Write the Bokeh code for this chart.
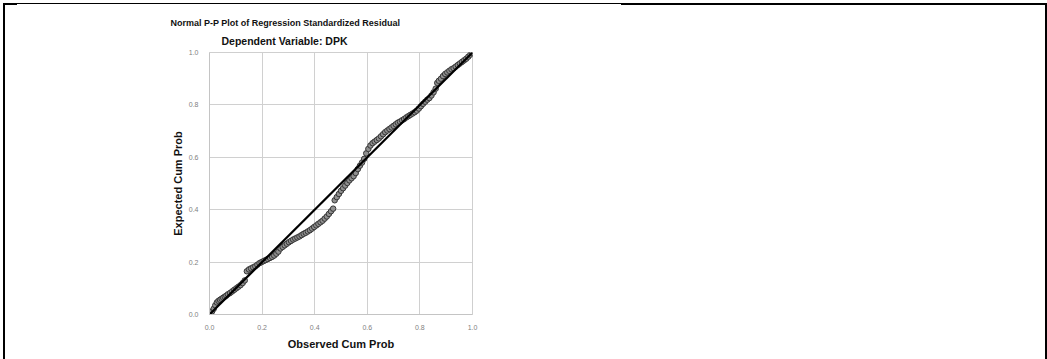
from bokeh.plotting import figure
from bokeh.models import Title, FixedTicker, NumeralTickFormatter, ColumnDataSource
from bokeh.embed import file_html
from bokeh.resources import INLINE

# ---------------- data ----------------
observed = [
    0.004, 0.010, 0.016, 0.022, 0.028, 0.034, 0.040, 0.046, 0.052, 0.058,
    0.064, 0.070, 0.078, 0.086, 0.094, 0.102, 0.110, 0.118, 0.126,
    0.134, 0.142, 0.150, 0.158, 0.166, 0.174, 0.182, 0.190, 0.198,
    0.206, 0.214, 0.222, 0.230, 0.238, 0.246, 0.254, 0.262, 0.270, 0.278,
    0.286, 0.294, 0.302, 0.310, 0.318, 0.326, 0.334, 0.342, 0.350, 0.358,
    0.366, 0.374, 0.382, 0.390, 0.398, 0.406, 0.414, 0.422, 0.430, 0.438,
    0.446, 0.454, 0.462, 0.470,
    0.476, 0.484, 0.492, 0.500, 0.508, 0.516, 0.524, 0.532, 0.540, 0.548, 0.556,
    0.564, 0.572, 0.580, 0.588,
    0.596, 0.604, 0.612, 0.620, 0.628, 0.636, 0.644, 0.652, 0.660, 0.668,
    0.676, 0.684, 0.692, 0.700, 0.708, 0.716, 0.724, 0.732, 0.740, 0.748,
    0.756, 0.764, 0.772, 0.780, 0.788, 0.796, 0.804, 0.812, 0.820, 0.828,
    0.836, 0.844, 0.852, 0.860,
    0.866, 0.872, 0.880, 0.888, 0.896, 0.904, 0.912, 0.920, 0.928, 0.936,
    0.944, 0.952, 0.960, 0.968, 0.976, 0.984, 0.992, 0.998,
]
expected = [
    0.004, 0.012, 0.022, 0.035, 0.046, 0.052, 0.056, 0.060, 0.064, 0.068,
    0.072, 0.077, 0.082, 0.088, 0.094, 0.100, 0.106, 0.112, 0.120,
    0.130, 0.165, 0.172, 0.176, 0.180, 0.184, 0.190, 0.196, 0.200,
    0.204, 0.208, 0.212, 0.216, 0.220, 0.225, 0.232, 0.240, 0.252, 0.258,
    0.264, 0.270, 0.276, 0.281, 0.286, 0.290, 0.294, 0.298, 0.303, 0.308,
    0.312, 0.317, 0.322, 0.328, 0.334, 0.340, 0.346, 0.352, 0.358, 0.366,
    0.374, 0.384, 0.394, 0.404,
    0.436, 0.448, 0.460, 0.472, 0.482, 0.492, 0.502, 0.512, 0.520, 0.528, 0.540,
    0.555, 0.568, 0.580, 0.594,
    0.615, 0.632, 0.645, 0.654, 0.660, 0.666, 0.672, 0.680, 0.688, 0.696,
    0.702, 0.708, 0.714, 0.720, 0.726, 0.732, 0.736, 0.741, 0.746, 0.752,
    0.757, 0.762, 0.767, 0.772, 0.778, 0.786, 0.795, 0.804, 0.812, 0.820,
    0.826, 0.836, 0.848, 0.862,
    0.884, 0.892, 0.900, 0.910, 0.918, 0.924, 0.930, 0.936, 0.940, 0.946,
    0.952, 0.958, 0.964, 0.970, 0.976, 0.984, 0.992, 0.998,
]
diag_x = [0.0, 1.0]
diag_y = [0.0, 1.0]
tick_vals = [0.0, 0.2, 0.4, 0.6, 0.8, 1.0]
tick_labels = ["0.0", "0.2", "0.4", "0.6", "0.8", "1.0"]
title_text = "Normal P-P Plot of Regression Standardized Residual"
subtitle_text = "Dependent Variable: DPK"
x_label = "Observed Cum Prob"
y_label = "Expected Cum Prob"

# ---------------- figure ----------------
FONT = "Liberation Sans"
p = figure(width=1047, height=359, x_range=(0, 1), y_range=(0, 1),
           output_backend="svg", toolbar_location=None,
           min_border_left=209, min_border_right=575,
           min_border_top=52, min_border_bottom=45)
p.border_fill_color = None
p.background_fill_color = "white"
p.outline_line_color = "#cfcfcf"
p.outline_line_width = 1

# table frame lines around the chart cell (decoration, CSS)
p.styles = {
    "background-image": ", ".join(["linear-gradient(#000,#000)"] * 5),
    "background-size": "2px 356px, 2px 356px, 14px 2px, 604px 1px, 425px 2px",
    "background-position": "3px 3px, 1045px 3px, 3px 3px, 17px 3px, 621px 3px",
    "background-repeat": "no-repeat",
}

src = ColumnDataSource(dict(x=observed, y=expected))
p.scatter("x", "y", source=src, size=5.5, marker="circle",
          fill_color="#909090", line_color="#363636", line_width=1)
p.line(diag_x, diag_y, line_color="black", line_width=2.2)

for ax in (p.xaxis, p.yaxis):
    ax.ticker = FixedTicker(ticks=tick_vals)
    ax.formatter = NumeralTickFormatter(format="0.0")
    ax.major_label_overrides = dict(zip(tick_vals, tick_labels))
    ax.major_tick_line_color = None
    ax.minor_tick_line_color = None
    ax.axis_line_color = "#c4c4c4"
    ax.major_label_text_font = FONT
    ax.major_label_text_font_size = "7px"
    ax.major_label_text_color = "#7f7f7f"
    ax.axis_label_text_font = FONT
    ax.axis_label_text_font_style = "bold"
    ax.axis_label_text_font_size = "11px"
    ax.axis_label_text_color = "#111111"

p.xaxis.axis_label = x_label
p.yaxis.axis_label = y_label
p.xaxis.major_label_standoff = 4
p.yaxis.major_label_standoff = 5
p.xaxis.axis_label_standoff = 5
p.yaxis.axis_label_standoff = 2

p.xgrid.ticker = FixedTicker(ticks=tick_vals)
p.ygrid.ticker = FixedTicker(ticks=tick_vals)
p.grid.grid_line_color = "#d0d0d0"
p.grid.grid_line_width = 1

# subtitle first (nearest the frame), then main title above it
p.add_layout(Title(text=subtitle_text, align="left", offset=12, standoff=9,
                   vertical_align="middle",
                   text_font=FONT, text_font_style="bold",
                   text_font_size="10.5px", text_color="#111111"), "above")
p.add_layout(Title(text=title_text, align="left", offset=-39, standoff=4,
                   text_font=FONT, text_font_style="bold",
                   text_font_size="9px", text_color="#111111"), "above")

open("out.html", "w").write(file_html(p, INLINE))
